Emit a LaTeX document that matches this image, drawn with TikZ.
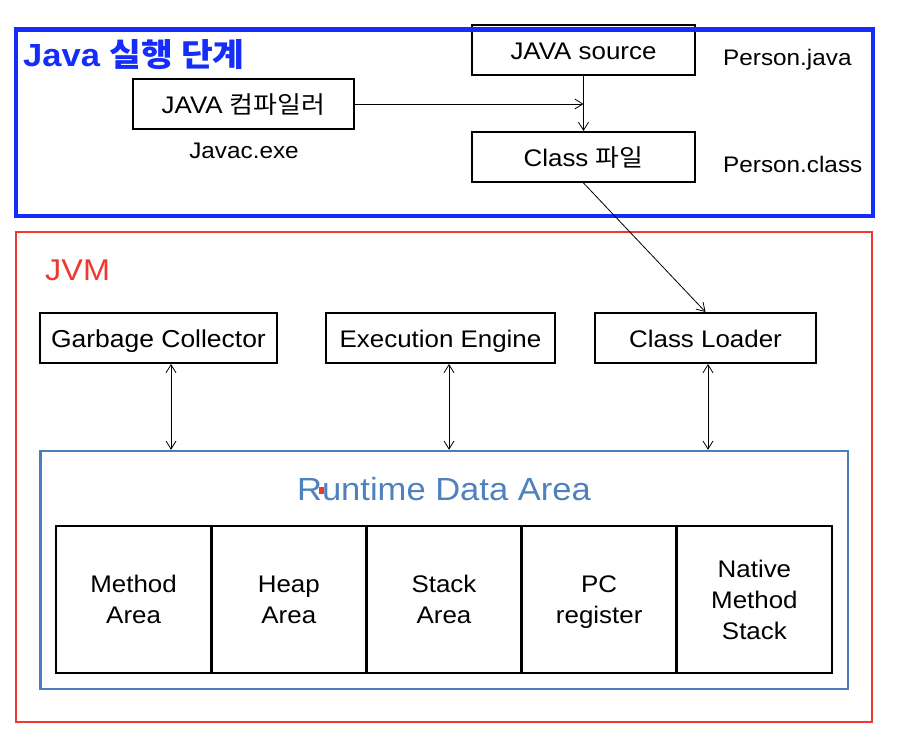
\documentclass[tikz,border=0pt]{standalone}
\usepackage{fontspec}
\setmainfont{Liberation Sans}[FakeStretch=1.08]
\newfontfamily\kr{Noto Sans CJK KR}[FakeStretch=1.08]
\usetikzlibrary{arrows.meta,calc}
\definecolor{frameblue}{RGB}{20,45,250}
\definecolor{jvmred}{RGB}{238,56,48}
\definecolor{steel}{RGB}{74,126,187}
\definecolor{rdatext}{RGB}{79,129,189}
\tikzset{
 box/.style={draw=black, line width=2pt, fill=white, inner sep=0pt, text height=19pt, text depth=0pt, font=\fontsize{24}{31}\selectfont},
 cell/.style={draw=black, line width=2.8pt, inner sep=0pt, minimum width=155.2pt, minimum height=147pt, align=center, font=\fontsize{24}{31}\selectfont},
 lbl/.style={inner sep=0pt, font=\fontsize{22.5}{28}\selectfont},
 conn/.style={line width=0.8pt, -{Straight Barb[length=8pt,width=10pt]}},
 dconn/.style={line width=0.8pt, {Straight Barb[length=8pt,width=10pt]}-{Straight Barb[length=8pt,width=10pt]}},
}
\begin{document}
\begin{tikzpicture}[x=1pt,y=-1pt]
\useasboundingbox (0,0) rectangle (910,746);
% top section boxes
\node[box, minimum width=223pt, minimum height=50pt] (src) at (583.5,50) {JAVA source};
\node[box, minimum width=221pt, minimum height=50pt] (comp) at (243.5,104) {JAVA {\kr 컴파일러}};
\node[box, minimum width=223pt, minimum height=50pt] (cls) at (583.5,157) {Class {\kr 파일}};
\node[lbl, anchor=base] (javac) at (244,159) {Javac.exe};
\node[lbl, anchor=base west] (pjava) at (723,66) {Person.java};
\node[lbl, anchor=base west] (pclass) at (723,173) {Person.class};
% blue frame
\draw[frameblue, line width=4.5pt] (16,29.5) rectangle (873,216);
\node[anchor=base west, inner sep=0pt, text=frameblue, font=\fontsize{32}{36}\selectfont\bfseries] (title) at (23,67) {Java {\kr 실행 단계}};
% JVM frame
\draw[jvmred, line width=2.5pt] (16,232) rectangle (872,722);
\node[anchor=base west, inner sep=0pt, text=jvmred, font=\fontsize{30}{36}\selectfont] (jvm) at (45,280) {JVM};
\node[box, minimum width=237pt, minimum height=50pt, font=\fontsize{24.5}{31}\selectfont] (gc) at (158.5,338) {Garbage Collector};
\node[box, minimum width=229pt, minimum height=50pt] (ee) at (440.5,338) {Execution Engine};
\node[box, minimum width=221pt, minimum height=50pt] (cl) at (705.5,338) {Class Loader};
% runtime data area
\node[draw=steel, line width=2.5pt, minimum width=807.5pt, minimum height=238pt, inner sep=0pt] (rda) at (444.25,570) {};
\node[anchor=base, inner sep=0pt, text=rdatext, font=\fontsize{32}{38}\selectfont] (rdat) at (444,500) {Runtime Data Area};
\fill[jvmred] (319,487) rectangle (324,494);
\node[cell] (c1) at (133.6,599.5) {Method\\Area};
\node[cell] (c2) at (288.8,599.5) {Heap\\Area};
\node[cell] (c3) at (444.0,599.5) {Stack\\Area};
\node[cell] (c4) at (599.2,599.5) {PC\\\raisebox{0pt}[\height][0pt]{register}};
\node[cell] (c5) at (754.4,599.5) {Native\\Method\\Stack};
% connectors
\coordinate (j) at (src.south |- comp.east);
\draw[conn] (comp.east) -- (j);
\draw[conn] (src.south) -- (cls.north);
\draw[conn] (cls.south) -- (cl.north);
\draw[dconn] ([xshift=12.5pt]gc.south) -- ([xshift=12.5pt]gc.south |- rda.north);
\draw[dconn] ([xshift=8.5pt]ee.south) -- ([xshift=8.5pt]ee.south |- rda.north);
\draw[dconn] ([xshift=2.5pt]cl.south) -- ([xshift=2.5pt]cl.south |- rda.north);
\end{tikzpicture}
\end{document}
